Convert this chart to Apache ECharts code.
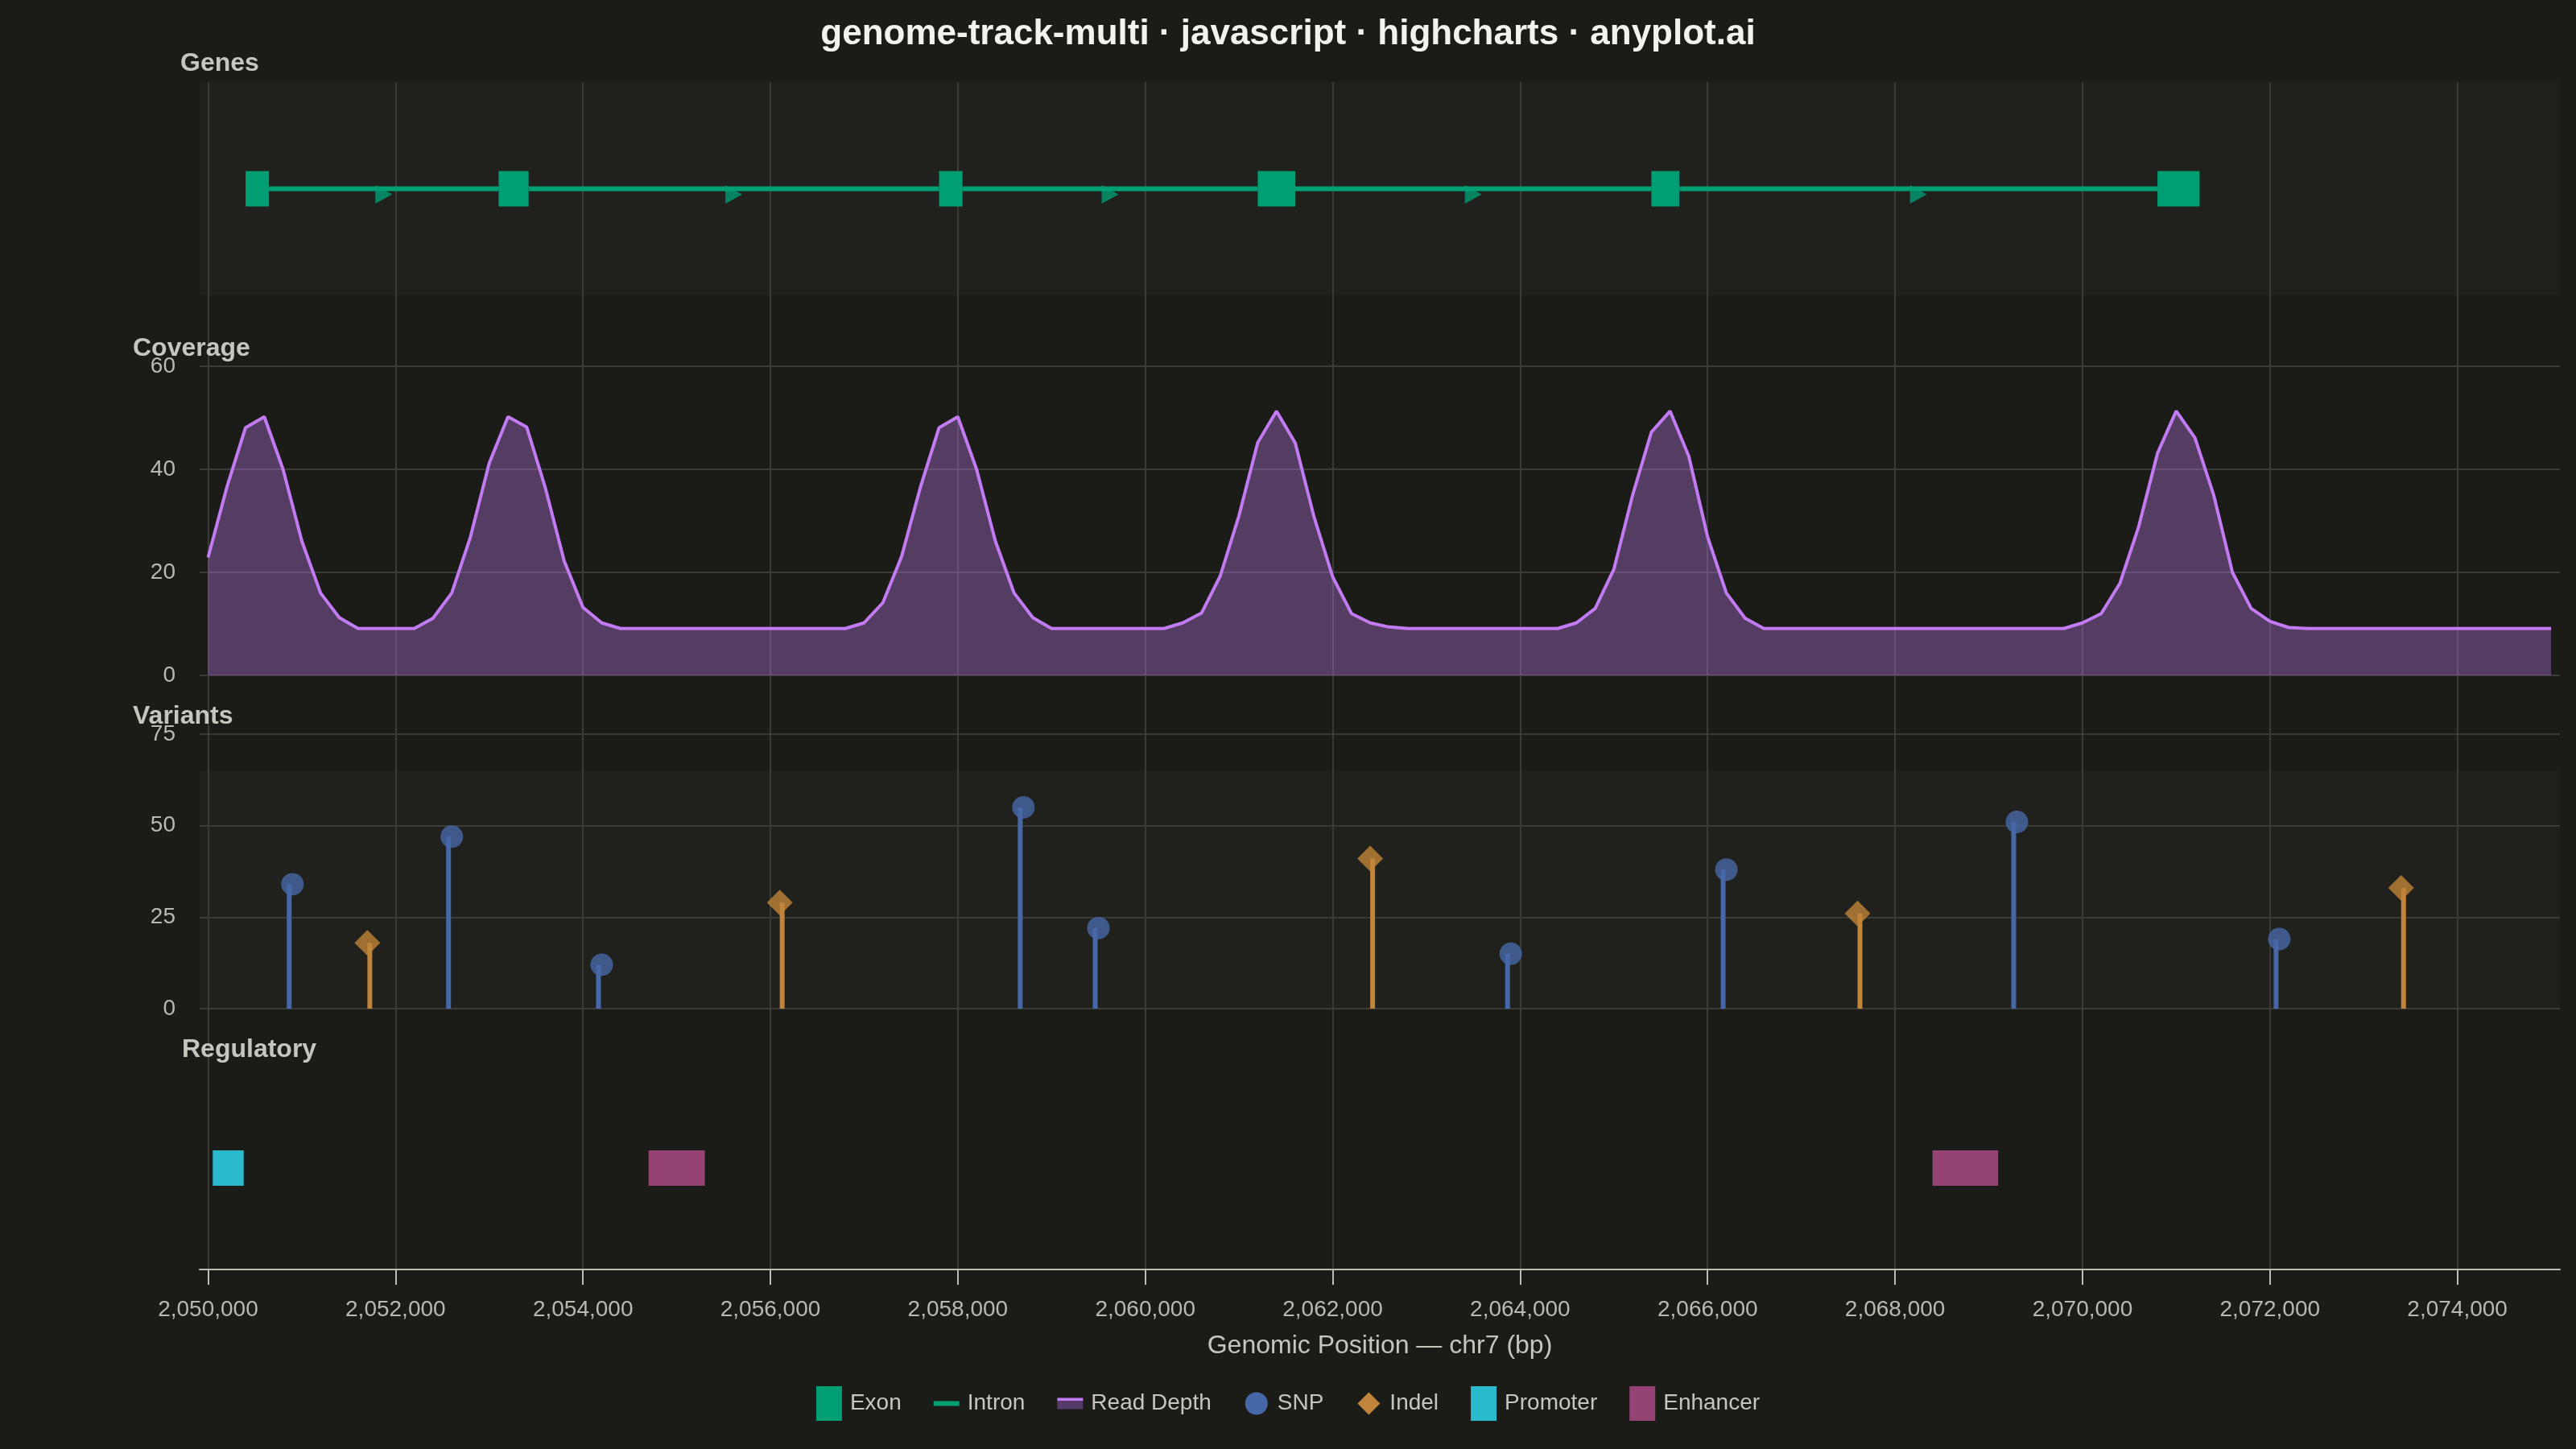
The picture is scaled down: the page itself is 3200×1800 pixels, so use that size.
<!DOCTYPE html>
<html>
<head>
<meta charset="utf-8">
<script src="https://cdn.jsdelivr.net/npm/echarts@6/dist/echarts.min.js"></script>
<style>
html,body{margin:0;padding:0;background:#1b1b18;}
#chart{width:3200px;height:1800px;}
</style>
</head>
<body>
<div id="chart"></div>
<script>
// ---------------- data ----------------
const chartTitle = 'genome-track-multi · javascript · highcharts · anyplot.ai';
const panelNames = ['Genes', 'Coverage', 'Variants', 'Regulatory'];
const axisTitle = 'Genomic Position — chr7 (bp)';

const exonStarts = [2050400, 2053100, 2057800, 2061200, 2065400, 2070800];
const exonEnds   = [2050650, 2053420, 2058050, 2061600, 2065700, 2071250];

const coverageStart = 2050000;
const coverageStep = 200;
const coverage = [
  22.9, 36.5, 48.1, 50.2, 40.0, 26.1, 16.0, 11.2, 9.1, 9.1,
  9.1, 9.1, 11.1, 16.0, 26.9, 41.2, 50.2, 48.2, 36.3, 22.2,
  13.2, 10.2, 9.1, 9.1, 9.1, 9.1, 9.1, 9.1, 9.1, 9.1,
  9.1, 9.1, 9.1, 9.1, 9.1, 10.2, 14.1, 23.1, 36.5, 48.1,
  50.2, 40.0, 26.1, 16.0, 11.2, 9.1, 9.1, 9.1, 9.1, 9.1,
  9.1, 9.1, 10.2, 12.1, 19.3, 31.0, 45.2, 51.3, 45.1, 30.8,
  19.1, 12.0, 10.2, 9.4, 9.1, 9.1, 9.1, 9.1, 9.1, 9.1,
  9.1, 9.1, 9.1, 10.2, 13.0, 20.6, 35.0, 47.2, 51.3, 42.5,
  26.9, 16.0, 11.1, 9.1, 9.1, 9.1, 9.1, 9.1, 9.1, 9.1,
  9.1, 9.1, 9.1, 9.1, 9.1, 9.1, 9.1, 9.1, 9.1, 9.1,
  10.2, 12.0, 17.9, 28.9, 43.1, 51.3, 46.1, 35.0, 20.0, 13.0,
  10.5, 9.3, 9.1, 9.1, 9.1, 9.1, 9.1, 9.1, 9.1, 9.1,
  9.1, 9.1, 9.1, 9.1, 9.1, 9.1
];

const snpPos = [2050900, 2052600, 2054200, 2058700, 2059500, 2063900, 2066200, 2069300, 2072100];
const snpVal = [34, 47, 12, 55, 22, 15, 38, 51, 19];
const indelPos = [2051700, 2056100, 2062400, 2067600, 2073400];
const indelVal = [18, 29, 41, 26, 33];

const promoterStarts = [2050050];
const promoterEnds   = [2050380];
const enhancerStarts = [2054700, 2068400];
const enhancerEnds   = [2055300, 2069100];

const tickMin = 2050000;
const tickMax = 2076000;
const tickStep = 2000;
const coverageTicks = {min: 0, max: 60, step: 20};
const variantTicks = {min: 0, max: 75, step: 25};

// ---------------- style / layout ----------------
const BG = '#1b1b18', BAND = '#20201d', GRID = '#3a3a37';
const LBL = '#b9b9b1', PANEL = '#c6c6be', AXIS = '#bdbdb5', TITLE = '#f2f2ee';
const EXON = '#009E73', COV = '#c27bf2', SNP = '#4768a8', INDEL = '#c0843a';
const PROM = '#2bbacd', ENH = '#944374';
const FONT = 'Liberation Sans, Arial, sans-serif';

const XMIN = 2049910, XMAX = 2075094;     // padded axis range of the plot area
const PL = 248, PR = 20;                  // plot area left / right margins
const pxPerBp = (3200 - PL - PR) / (XMAX - XMIN);
const tickLeft = PL + (tickMin - XMIN) * pxPerBp;
const tickRight = 3200 - tickLeft - (tickMax - tickMin) * pxPerBp;

const exonData = exonStarts.map((s, i) => [s, exonEnds[i], 0.5]);
const intronData = exonStarts.slice(1).map((s, i) => [exonEnds[i], s, 0.5]);
const strandData = intronData.map(d => [(d[0] + d[1]) / 2, 0.5]);
const coverageData = coverage.map((v, i) => [coverageStart + i * coverageStep, v]);
const snpData = snpPos.map((p, i) => [p, snpVal[i]]);
const indelData = indelPos.map((p, i) => [p, indelVal[i]]);
const promoterData = promoterStarts.map((s, i) => [s, promoterEnds[i], 0.5]);
const enhancerData = enhancerStarts.map((s, i) => [s, enhancerEnds[i], 0.5]);

function rectRenderer(h, color) {
  return function (params, api) {
    const p0 = api.coord([api.value(0), api.value(2)]);
    const p1 = api.coord([api.value(1), api.value(2)]);
    return {type: 'rect', shape: {x: p0[0], y: p0[1] - h / 2, width: p1[0] - p0[0], height: h},
            style: {fill: color}};
  };
}
function stemRenderer(w, dx, color) {
  return function (params, api) {
    const p0 = api.coord([api.value(0), 0]);
    const p1 = api.coord([api.value(0), api.value(1)]);
    return {type: 'rect', shape: {x: p0[0] + dx - w / 2, y: p1[1], width: w, height: p0[1] - p1[1]},
            style: {fill: color}};
  };
}

const gridBase = {left: PL, right: PR, containLabel: false, outerBoundsMode: 'none', borderWidth: 0};
const grids = [
  Object.assign({}, gridBase, {top: 102, height: 265, show: true, backgroundColor: BAND}),  // 0 genes
  Object.assign({}, gridBase, {top: 455, height: 384}),                                     // 1 coverage
  Object.assign({}, gridBase, {top: 912, height: 341}),                                     // 2 variants
  Object.assign({}, gridBase, {top: 1325, height: 252}),                                    // 3 regulatory
  Object.assign({}, gridBase, {top: 102, height: 1475, left: tickLeft, right: tickRight}),  // 4 ticks
  Object.assign({}, gridBase, {top: 102, height: 1475}),                                    // 5 axis line
  Object.assign({}, gridBase, {top: 957, height: 296, show: true, backgroundColor: BAND})   // 6 variant band
];

const hiddenX = i => ({gridIndex: i, type: 'value', min: XMIN, max: XMAX, show: false});
const hiddenY = i => ({gridIndex: i, type: 'value', min: 0, max: 1, show: false});

const xAxes = [
  hiddenX(0), hiddenX(1), hiddenX(2), hiddenX(3),
  {gridIndex: 4, type: 'value', min: tickMin, max: tickMax, interval: tickStep,
   axisLine: {show: false},
   axisTick: {show: true, length: 19, lineStyle: {color: AXIS, width: 2}},
   axisLabel: {color: LBL, fontSize: 28, margin: 36, fontFamily: FONT,
               formatter: v => v.toLocaleString('en-US')},
   splitLine: {show: true, lineStyle: {color: GRID, width: 2}}},
  {gridIndex: 5, type: 'value', min: XMIN, max: XMAX,
   axisLine: {show: true, lineStyle: {color: AXIS, width: 2}},
   axisTick: {show: false}, axisLabel: {show: false}, splitLine: {show: false},
   name: axisTitle, nameLocation: 'middle', nameGap: 79,
   nameTextStyle: {color: PANEL, fontSize: 32, fontFamily: FONT}},
  hiddenX(6)
];

const shownY = (i, t) => ({gridIndex: i, type: 'value', min: t.min, max: t.max, interval: t.step,
  axisLine: {show: false}, axisTick: {show: false},
  axisLabel: {color: LBL, fontSize: 28, margin: 30, fontFamily: FONT, padding: [8, 0, 0, 0]},
  splitLine: {show: true, lineStyle: {color: GRID, width: 2}}});

const yAxes = [hiddenY(0), shownY(1, coverageTicks), shownY(2, variantTicks), hiddenY(3), hiddenY(4), hiddenY(5), hiddenY(6)];

const panelStyle = {color: PANEL, fontSize: 32, fontWeight: 'bold', fontFamily: FONT};
const titles = [
  {text: chartTitle, left: 'center', top: 21, padding: 0,
   textStyle: {color: TITLE, fontSize: 44, fontWeight: 'bold', fontFamily: FONT}},
  {text: panelNames[0], left: 224, top: 63, padding: 0, textStyle: panelStyle},
  {text: panelNames[1], left: 165, top: 417, padding: 0, textStyle: panelStyle},
  {text: panelNames[2], left: 165, top: 874, padding: 0, textStyle: panelStyle},
  {text: panelNames[3], left: 226, top: 1288, padding: 0, textStyle: panelStyle}
];

const box = 'M0,0M32,43';
const legendData = [
  {name: 'Exon', icon: 'rect', itemStyle: {color: EXON, borderWidth: 0}},
  {name: 'Intron', icon: 'path://' + box + 'M0,18.5L32,18.5L32,24.5L0,24.5Z', itemStyle: {color: EXON, borderWidth: 0}},
  {name: 'Read Depth', icon: 'path://' + box + 'M0,14.5L32,14.5L32,28.5L0,28.5Z',
   itemStyle: {borderWidth: 0, color: {type: 'linear', x: 0, y: 0, x2: 0, y2: 1, colorStops: [
     {offset: 0, color: COV}, {offset: 0.43, color: COV}, {offset: 0.43, color: '#553a6a'}, {offset: 1, color: '#553a6a'}]}}},
  {name: 'SNP', icon: 'path://' + box + 'M2,21.5A14,14,0,1,1,30,21.5A14,14,0,1,1,2,21.5Z', itemStyle: {color: SNP, borderWidth: 0}},
  {name: 'Indel', icon: 'path://' + box + 'M16,7.5L30,21.5L16,35.5L2,21.5Z', itemStyle: {color: INDEL, borderWidth: 0}},
  {name: 'Promoter', icon: 'rect', itemStyle: {color: PROM, borderWidth: 0}},
  {name: 'Enhancer', icon: 'rect', itemStyle: {color: ENH, borderWidth: 0}}
];

const option = {
  backgroundColor: BG,
  animation: false,
  title: titles,
  legend: {left: 'center', top: 1722, padding: 0, itemWidth: 32, itemHeight: 43, itemGap: 40,
           selectedMode: false, itemStyle: {borderWidth: 0},
           textStyle: {color: PANEL, fontSize: 28, fontFamily: FONT, padding: [0, 0, 0, 5]},
           data: legendData},
  grid: grids,
  xAxis: xAxes,
  yAxis: yAxes,
  series: [
    {name: 'Intron', type: 'custom', xAxisIndex: 0, yAxisIndex: 0, z: 2,
     renderItem: rectRenderer(6, EXON), encode: {x: [0, 1], y: 2}, data: intronData,
     itemStyle: {color: EXON}},
    {name: 'Strand', type: 'scatter', xAxisIndex: 0, yAxisIndex: 0, z: 3,
     symbol: 'path://M0,0L1,0.5L0,1Z', symbolSize: [21, 23], symbolOffset: [0, 7],
     itemStyle: {color: EXON}, data: strandData, silent: true},
    {name: 'Exon', type: 'custom', xAxisIndex: 0, yAxisIndex: 0, z: 4,
     renderItem: rectRenderer(44, EXON), encode: {x: [0, 1], y: 2}, data: exonData,
     itemStyle: {color: EXON}},
    {name: 'Read Depth', type: 'line', xAxisIndex: 1, yAxisIndex: 1, showSymbol: false, symbol: 'none',
     lineStyle: {color: COV, width: 4}, itemStyle: {color: COV},
     areaStyle: {color: COV, opacity: 0.35}, data: coverageData},
    {name: 'SNP', type: 'custom', xAxisIndex: 2, yAxisIndex: 2, z: 2,
     renderItem: stemRenderer(6, -4, SNP), encode: {x: 0, y: 1}, data: snpData, itemStyle: {color: SNP}},
    {name: 'SNP', type: 'scatter', xAxisIndex: 2, yAxisIndex: 2, z: 3, symbol: 'circle', symbolSize: 28,
     itemStyle: {color: SNP}, data: snpData},
    {name: 'Indel', type: 'custom', xAxisIndex: 2, yAxisIndex: 2, z: 2,
     renderItem: stemRenderer(6, 3, INDEL), encode: {x: 0, y: 1}, data: indelData, itemStyle: {color: INDEL}},
    {name: 'Indel', type: 'scatter', xAxisIndex: 2, yAxisIndex: 2, z: 3, symbol: 'diamond', symbolSize: 32,
     itemStyle: {color: INDEL}, data: indelData},
    {name: 'Promoter', type: 'custom', xAxisIndex: 3, yAxisIndex: 3,
     renderItem: rectRenderer(44, PROM), encode: {x: [0, 1], y: 2}, data: promoterData, itemStyle: {color: PROM}},
    {name: 'Enhancer', type: 'custom', xAxisIndex: 3, yAxisIndex: 3,
     renderItem: rectRenderer(44, ENH), encode: {x: [0, 1], y: 2}, data: enhancerData, itemStyle: {color: ENH}},
    {name: 'band', type: 'line', xAxisIndex: 6, yAxisIndex: 6, data: [], silent: true}
  ]
};

const chart = echarts.init(document.getElementById('chart'), null, {renderer: 'canvas', width: 3200, height: 1800});
chart.setOption(option);
</script>
</body>
</html>
